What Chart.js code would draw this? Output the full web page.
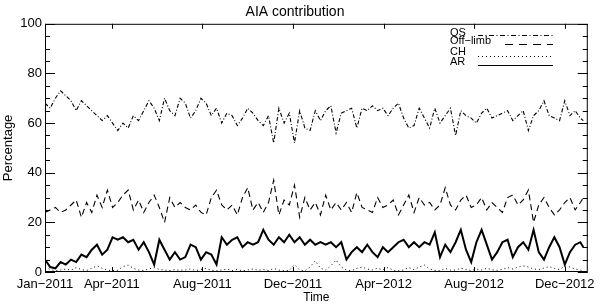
<!DOCTYPE html>
<html>
<head>
<meta charset="utf-8">
<script src="https://cdn.jsdelivr.net/npm/chart.js@4.4.1/dist/chart.umd.min.js"></script>
<style>
  body { margin: 0; background: #fff; }
  canvas { display: block; }
</style>
</head>
<body>
<canvas id="chart" width="600" height="306"></canvas>
<script>
// days since 1 Jan 2011, tick positions and labels
const tickDays = [0, 90, 212, 334, 456, 578, 700];
const tickLabels = ['Jan\u22122011', 'Apr\u22122011', 'Aug\u22122011', 'Dec\u22122011', 'Apr\u22122012', 'Aug\u22122012', 'Dec\u22122012'];
const yTicks = [0, 20, 40, 60, 80, 100];

// weekly samples (last one is ~25 Dec 2012)
const days = [];
for (let d = 0; d <= 721; d += 7) days.push(d);
days.push(725);

const qs = [68, 66, 70, 73, 71, 69, 65, 69, 67, 65, 63, 61, 63, 60, 57, 60, 58, 63, 61, 65, 69, 66, 61, 70, 65, 63, 70,
    68, 62, 65, 70, 68, 63, 66, 60, 64, 63, 59, 62, 66, 64, 61, 59, 63, 52, 66, 60, 64, 52, 65, 58, 57, 65,
    61, 65, 67, 56, 64, 65, 66, 58, 66, 65, 67, 65, 66, 63, 66, 68, 62, 58, 59, 66, 62, 58, 66, 60, 63, 66,
    55, 65, 63, 62, 60, 64, 66, 62, 63, 64, 65, 61, 63, 65, 57, 63, 65, 69, 63, 62, 61, 69, 63, 65, 62, 61];

const offLimb = [24, 25, 26, 24, 25, 27, 29, 22, 28, 24, 31, 26, 33, 26, 28, 31, 33, 25, 29, 24, 28, 31, 26, 20, 30, 26, 28,
    26, 25, 27, 24, 23, 30, 33, 27, 25, 27, 23, 30, 34, 25, 28, 24, 28, 37, 23, 29, 27, 35, 22, 30, 25, 28,
    23, 31, 25, 28, 25, 28, 24, 32, 26, 25, 24, 30, 26, 27, 29, 23, 27, 31, 24, 30, 27, 28, 25, 27, 34, 27,
    25, 29, 31, 26, 27, 30, 25, 28, 26, 24, 30, 31, 27, 29, 33, 20, 27, 30, 26, 23, 25, 28, 30, 25, 28, 30];

const ch = [2, 1, 0.5, 0.8, 1.2, 0.7, 1.8, 1, 0.6, 1.5, 2.5, 1.5, 0.8, 0.5, 0.7, 2.2, 2.8, 1.5, 0.8, 0.6, 1.2, 1.8, 1, 0.8, 0.6, 0.9, 0.7,
    0.8, 1.2, 0.6, 1, 1.5, 0.7, 0.5, 0.8, 1.2, 0.6, 1, 0.5, 0.8, 1.2, 0.7, 1, 0.6, 1.4, 0.8, 0.5, 0.6, 3, 0.8, 0.5, 2, 4.5,
    1.5, 0.8, 2.5, 4.8, 2, 0.8, 0.5, 1.5, 2, 1.2, 0.8, 1.5, 0.9, 1.8, 0.7, 0.5, 0.8, 1.8, 0.9, 2, 2.8, 1.2, 0.7, 0.5, 1.4, 0.8,
    0.8, 1.5, 1, 0.6, 1.2, 0.8, 1.5, 0.9, 0.7, 1, 1.8, 1.2, 2, 2.5, 2, 1.2, 1, 1.6, 2.2, 1.4, 1, 2.4, 2, 1.2, 0.8, 0.5];

const ar = [5, 2, 1.5, 4, 3, 5, 4, 7, 6, 9, 11, 7, 9, 14, 13, 14, 12, 13, 9, 12, 8, 3, 13, 9, 5, 8, 5,
    6, 11, 10, 5, 8, 7, 3, 14, 11, 13, 14, 10, 12, 11, 12, 17, 13, 11, 14, 12, 15, 12, 14, 11, 13, 11,
    12, 11, 12, 10, 12, 5, 8, 10, 8, 11, 8, 6, 10, 8, 10, 12, 13, 10, 12, 10, 12, 11, 16, 6, 11, 8,
    12, 17, 9, 4, 12, 17, 11, 5, 8, 12, 13, 6, 10, 12, 9, 17, 8, 5, 10, 14, 10, 3, 8, 11, 12, 10];

const seriesNames = ['QS', 'Off\u2212limb', 'CH', 'AR'];
const seriesDash = [[4, 2, 1, 2], [6, 4], [1, 3], []];
const legendDash = [[5, 2.5, 1, 2.5], [8, 6], [1, 3], []];
const seriesWidth = [1.1, 1.1, 1, 2];

const font = 'Liberation Sans, Arial, sans-serif';
Chart.defaults.color = '#000';
Chart.defaults.font.family = font;

function toPoints(vals) {
    return vals.map((v, i) => ({x: days[i], y: v}));
}

// IDL-like box with inward ticks plus the legend in the upper right
const frame = {
    id: 'frame',
    afterDatasetsDraw(chart) {
        const {ctx, chartArea: a, scales: {x, y}} = chart;
        const seg = (x1, y1, x2, y2) => { ctx.beginPath(); ctx.moveTo(x1, y1); ctx.lineTo(x2, y2); ctx.stroke(); };
        ctx.save();
        ctx.strokeStyle = '#000';
        ctx.lineWidth = 1;
        ctx.strokeRect(a.left + 0.5, a.top + 0.5, a.right - a.left - 1, a.bottom - a.top - 1);
        for (let v = 0; v <= 100; v += 5) {
            const py = Math.round(y.getPixelForValue(v)) + 0.5;
            const len = v % 20 === 0 ? 10 : 5;
            seg(a.left, py, a.left + len, py);
            seg(a.right, py, a.right - len, py);
        }
        tickDays.forEach(d => {
            const px = Math.round(x.getPixelForValue(d)) + 0.5;
            seg(px, a.bottom, px, a.bottom - 5);
            seg(px, a.top, px, a.top + 5);
        });

        // legend
        const textY = [36, 44, 54.5, 65];
        const lineY = [35.5, 44.5, 56.5, 65.5];
        const lineX0 = [478, 505, 478, 478];
        ctx.font = '11px ' + font;
        ctx.fillStyle = '#000';
        ctx.textBaseline = 'alphabetic';
        seriesNames.forEach((name, i) => {
            ctx.fillText(name, 450, textY[i]);
            ctx.setLineDash(legendDash[i]);
            ctx.lineWidth = 1;
            seg(lineX0[i], lineY[i], 553, lineY[i]);
        });
        ctx.restore();
    }
};

const allSeries = [qs, offLimb, ch, ar];

new Chart(document.getElementById('chart'), {
    type: 'line',
    data: {
        datasets: allSeries.map((vals, i) => ({
            label: seriesNames[i],
            data: toPoints(vals),
            borderColor: '#000',
            borderWidth: seriesWidth[i],
            borderDash: seriesDash[i],
            pointRadius: 0,
            tension: 0,
            fill: false
        }))
    },
    options: {
        responsive: false,
        animation: false,
        layout: {padding: {left: 0, right: 10, top: 0, bottom: 0}},
        plugins: {
            legend: {display: false},
            tooltip: {enabled: false},
            title: {
                display: true,
                text: 'AIA contribution',
                font: {size: 14, weight: 'normal'},
                padding: {top: 4, bottom: 3}
            }
        },
        scales: {
            x: {
                type: 'linear',
                min: 0,
                max: 731,
                afterBuildTicks: s => { s.ticks = tickDays.map(v => ({value: v})); },
                afterFit: s => { s.height = 34; },
                ticks: {
                    callback: v => tickLabels[tickDays.indexOf(v)],
                    autoSkip: false,
                    maxRotation: 0,
                    font: {size: 13},
                    padding: 5
                },
                grid: {display: false, drawTicks: false},
                border: {display: false},
                title: {display: true, text: 'Time', font: {size: 12}, padding: {top: 0, bottom: 1}}
            },
            y: {
                min: 0,
                max: 100,
                afterBuildTicks: s => { s.ticks = yTicks.map(v => ({value: v})); },
                afterFit: s => { s.width = 45; },
                ticks: {font: {size: 13}, padding: 3},
                grid: {display: false, drawTicks: false},
                border: {display: false},
                title: {display: true, text: 'Percentage', font: {size: 13}, padding: {top: 1, bottom: 0}}
            }
        }
    },
    plugins: [frame]
});
</script>
</body>
</html>
